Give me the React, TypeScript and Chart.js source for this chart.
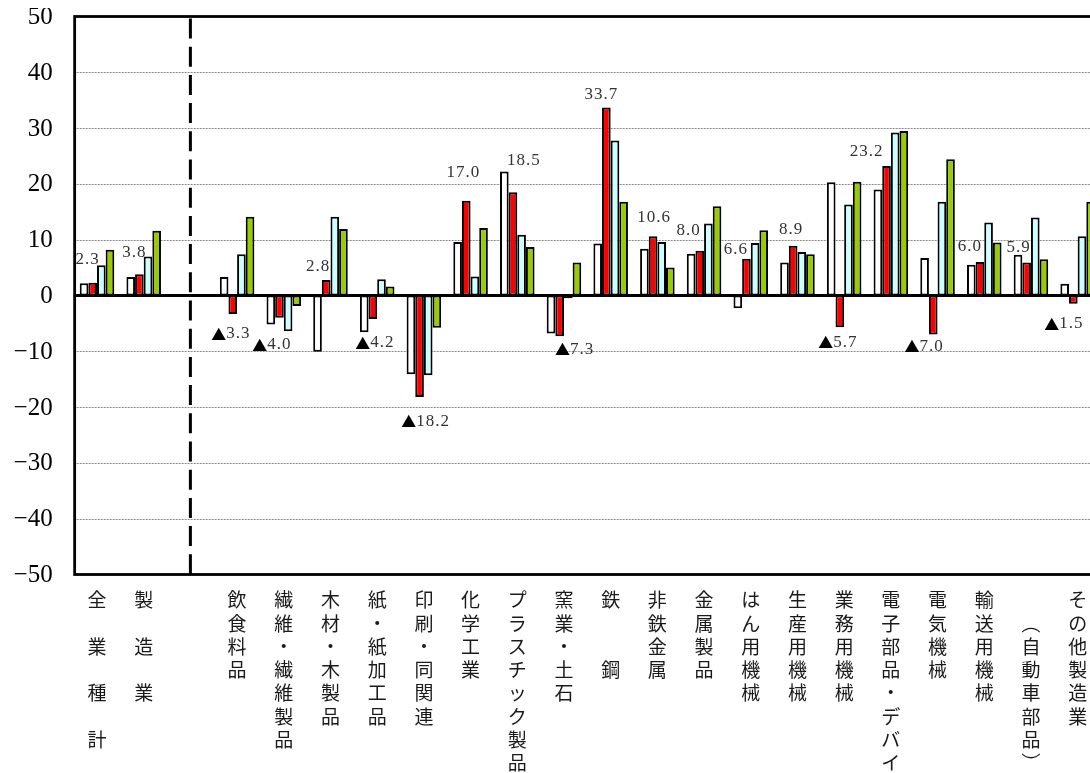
import { useEffect, useRef } from "react";
import { Chart, registerables } from "chart.js";

Chart.register(...registerables);

// Industry categories (index 2 is an empty slot that holds the dashed divider)
const categories = [
  "全業種計", "製造業", "", "飲食料品", "繊維・繊維製品", "木材・木製品", "紙・紙加工品",
  "印刷・同関連", "化学工業", "プラスチック製品", "窯業・土石", "鉄鋼", "非鉄金属", "金属製品",
  "はん用機械", "生産用機械", "業務用機械", "電子部品・デバイス", "電気機械", "輸送用機械",
  "(自動車部品)", "その他製造業",
];

// Vertical tick labels, one character per line ("" = empty line)
const categoryLabels: string[][] = [
  ["全", "", "業", "", "種", "", "計"],
  ["製", "", "造", "", "業"],
  [],
  ["飲", "食", "料", "品"],
  ["繊", "維", "・", "繊", "維", "製", "品"],
  ["木", "材", "・", "木", "製", "品"],
  ["紙", "・", "紙", "加", "工", "品"],
  ["印", "刷", "・", "同", "関", "連"],
  ["化", "学", "工", "業"],
  ["プ", "ラ", "ス", "チ", "ッ", "ク", "製", "品"],
  ["窯", "業", "・", "土", "石"],
  ["鉄", "", "", "鋼"],
  ["非", "鉄", "金", "属"],
  ["金", "属", "製", "品"],
  ["は", "ん", "用", "機", "械"],
  ["生", "産", "用", "機", "械"],
  ["業", "務", "用", "機", "械"],
  ["電", "子", "部", "品", "・", "デ", "バ", "イ", "ス"],
  ["電", "気", "機", "械"],
  ["輸", "送", "用", "機", "械"],
  ["", "︵", "自", "動", "車", "部", "品", "︶"],
  ["そ", "の", "他", "製", "造", "業"],
];

const series1 = [2.2, 3.3, null, 3.3, -5.2, -10.1, -6.6, -14.1, 9.6, 22.2, -6.8, 9.3, 8.4, 7.5, -2.3, 5.9, 20.3, 19.0, 6.7, 5.5, 7.3, 2.1];
const series2 = [2.3, 3.8, null, -3.3, -4.0, 2.8, -4.2, -18.2, 17.0, 18.5, -7.3, 33.7, 10.6, 8.0, 6.6, 8.9, -5.7, 23.2, -7.0, 6.0, 5.9, -1.5];
const series3 = [5.4, 7.0, null, 7.4, -6.4, 14.1, 2.9, -14.3, 3.4, 10.9, -0.5, 27.8, 9.6, 12.9, 9.4, 7.8, 16.3, 29.2, 16.8, 13.1, 14.0, 10.6];
const series4 = [8.2, 11.6, null, 14.1, -1.9, 11.9, 1.6, -5.8, 12.1, 8.7, 5.9, 16.8, 5.0, 16.0, 11.7, 7.4, 20.4, 29.5, 24.4, 9.5, 6.5, 16.8];

const yTicks = [50, 40, 30, 20, 10, 0, -10, -20, -30, -40, -50];

// Nudge of each series-2 value label from the bar end: [dx, dy]
const labelNudge: [number, number][] = [
  [-5, -23], [-5, -22], [0, 0], [-2, 20], [-7.5, 27], [-8, -13], [2, 24], [6, 24],
  [-3, -28], [11, -32], [15, 13], [-5, -12.5], [1, -19], [-11, -20], [-10.5, -9],
  [-2, -16], [-2, 15], [-20, -15], [-9, 12], [-10, -15], [-8, -14.6], [-9.5, 20],
];

const serif = "'Liberation Serif', 'DejaVu Serif', serif";
const cjk = "'Noto Sans CJK JP', 'Noto Sans CJK SC', sans-serif";

const fmtTick = (v: number) => (v < 0 ? "−" + Math.abs(v) : String(v));

// Draws a value label centred on (cx, cy); negatives get a full-width ▲ mark
function drawValue(ctx: CanvasRenderingContext2D, v: number, cx: number, cy: number) {
  const num = Math.abs(v).toFixed(1);
  const numFont = `17px ${serif}`;
  const markFont = `15px ${cjk}`;
  ctx.font = numFont;
  (ctx as any).letterSpacing = "1px";
  const wNum = ctx.measureText(num).width;
  let wMark = 0;
  if (v < 0) {
    ctx.font = markFont;
    (ctx as any).letterSpacing = "0px";
    wMark = ctx.measureText("▲").width;
  }
  let x = cx - (wNum + wMark) / 2;
  ctx.textAlign = "left";
  ctx.textBaseline = "middle";
  if (v < 0) {
    ctx.font = markFont;
    (ctx as any).letterSpacing = "0px";
    ctx.fillStyle = "#000";
    ctx.fillText("▲", x, cy);
    x += wMark;
  }
  ctx.font = numFont;
  (ctx as any).letterSpacing = "1px";
  ctx.fillStyle = "#333";
  ctx.fillText(num, x, cy);
  (ctx as any).letterSpacing = "0px";
}

const framePlugin = {
  id: "frame",
  beforeDatasetsDraw(chart: any) {
    const { ctx, chartArea: a, scales } = chart;
    const y = scales.y;
    ctx.save();
    ctx.strokeStyle = "#8a8a8a";
    ctx.lineWidth = 1;
    ctx.setLineDash([2, 1]);
    for (const v of yTicks) {
      if (v === 0 || v === 50 || v === -50) continue;
      const py = Math.round(y.getPixelForValue(v)) + 0.5;
      ctx.beginPath();
      ctx.moveTo(a.left, py);
      ctx.lineTo(a.right, py);
      ctx.stroke();
    }
    ctx.restore();
  },
  afterDatasetsDraw(chart: any) {
    const { ctx, chartArea: a, scales } = chart;
    const x = scales.x;
    const y = scales.y;
    ctx.save();

    // zero line
    ctx.strokeStyle = "#000";
    ctx.lineWidth = 3;
    const y0 = y.getPixelForValue(0);
    ctx.beginPath();
    ctx.moveTo(a.left, y0);
    ctx.lineTo(a.right, y0);
    ctx.stroke();

    // plot frame
    ctx.lineWidth = 2.8;
    ctx.strokeRect(a.left + 1, a.top, a.right - a.left - 1, a.bottom - a.top);

    // dashed divider in the empty slot
    const dx = x.getPixelForValue(2);
    ctx.lineWidth = 3;
    ctx.setLineDash([20, 8.2]);
    ctx.lineDashOffset = -2;
    ctx.beginPath();
    ctx.moveTo(dx, a.top);
    ctx.lineTo(dx, a.bottom);
    ctx.stroke();
    ctx.setLineDash([]);

    // value labels on series 2
    const meta = chart.getDatasetMeta(1);
    series2.forEach((v, i) => {
      if (v === null) return;
      const el = meta.data[i];
      const [nx, ny] = labelNudge[i];
      drawValue(ctx, v, el.x + nx, el.y + ny);
    });

    // y tick labels
    ctx.fillStyle = "#000";
    ctx.font = `25px ${serif}`;
    ctx.textAlign = "right";
    ctx.textBaseline = "middle";
    for (const v of yTicks) {
      ctx.fillText(fmtTick(v), a.left - 21, y.getPixelForValue(v) + 1);
    }

    // vertical category labels
    ctx.font = `19px ${cjk}`;
    ctx.textAlign = "center";
    ctx.fillStyle = "#1a1a1a";
    categoryLabels.forEach((lines, i) => {
      const cx = x.getPixelForValue(i);
      lines.forEach((ch, k) => {
        if (!ch) return;
        ctx.fillText(ch, cx, a.bottom + 25.5 + k * 23.3);
      });
    });

    ctx.restore();
  },
};

export default function App() {
  const ref = useRef<HTMLCanvasElement>(null);

  useEffect(() => {
    const canvas = ref.current;
    if (!canvas) return;
    const common = {
      borderColor: "#000",
      borderWidth: 2,
      borderSkipped: false as const,
    };
    const chart = new Chart(canvas, {
      type: "bar",
      data: {
        labels: categories,
        datasets: [
          { label: "系列1", data: series1, backgroundColor: "#FFFFFF", ...common },
          { label: "系列2", data: series2, backgroundColor: "#FF0000", ...common },
          { label: "系列3", data: series3, backgroundColor: "#CCFFFF", ...common },
          { label: "系列4", data: series4, backgroundColor: "#99CC00", ...common },
        ],
      },
      options: {
        responsive: false,
        animation: false,
        devicePixelRatio: 1,
        layout: { padding: { left: 65.65, right: 17, top: 8.5, bottom: 198.5 } },
        plugins: { legend: { display: false }, tooltip: { enabled: false } },
        datasets: { bar: { categoryPercentage: 0.74, barPercentage: 1 } },
        scales: {
          x: { display: false, offset: true },
          y: { display: false, min: -50, max: 50 },
        },
      },
      plugins: [framePlugin],
    });
    return () => chart.destroy();
  }, []);

  return (
    <div style={{ position: "fixed", left: 8, top: 8, width: 1082, height: 765, overflow: "hidden" }}>
      <canvas ref={ref} width={1110} height={765} style={{ display: "block" }} />
    </div>
  );
}
